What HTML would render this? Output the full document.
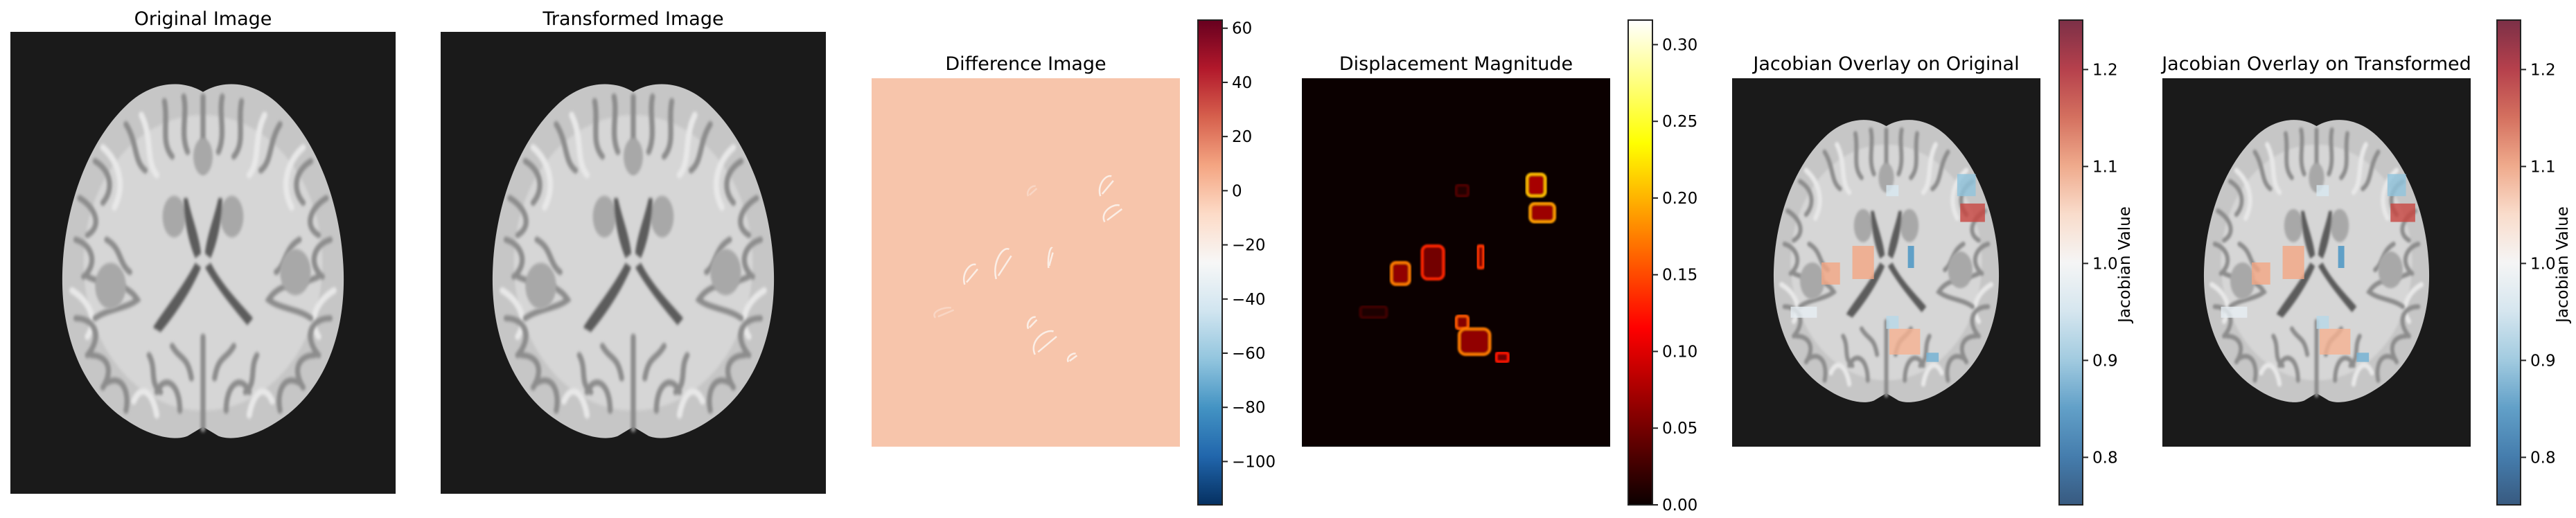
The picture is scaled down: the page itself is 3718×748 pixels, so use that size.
<!DOCTYPE html>
<html><head><meta charset="utf-8">
<style>
html,body{margin:0;padding:0;background:#fff;width:3718px;height:748px;overflow:hidden}
text{font-family:"DejaVu Sans","Liberation Sans",sans-serif;fill:#000}
</style></head>
<body>
<svg id="fig" width="3718" height="748" viewBox="0 0 3718 748" xmlns="http://www.w3.org/2000/svg">
<defs>
<filter id="soft" x="-5%" y="-5%" width="110%" height="110%"><feGaussianBlur stdDeviation="0.35"/></filter>
<filter id="glow"><feGaussianBlur stdDeviation="1.2"/></filter>
<symbol id="brain" viewBox="0 0 100 100" preserveAspectRatio="none">
 <path d="M50,13 C56,10 64,11 70,16 C80,24 86,38 86.5,52 C87,66 81,78 70,84 C63,88 57,88.5 54,87.5 L50,85.5 L46,87.5 C43,88.5 37,88 30,84 C19,78 13,66 13.5,52 C14,38 20,24 30,16 C36,11 44,10 50,13 Z" fill="#c6c6c6"/>
 <ellipse cx="50" cy="50" rx="31" ry="32" fill="#d6d6d6" filter="url(#soft)"/>
 <g fill="none" stroke="#e8e8e8" stroke-width="1.4" stroke-linecap="round" filter="url(#soft)">
  <path d="M24,25 C28,28 30,33 27,38"/><path d="M34,18 C37,23 35,28 38,31"/><path d="M66,18 C63,23 65,28 62,31"/><path d="M76,25 C72,28 70,33 73,38"/>
  <path d="M16,56 C20,58 23,62 20,66"/><path d="M84,56 C80,58 77,62 80,66"/><path d="M32,80 C34,76 37,78 38,83"/><path d="M68,80 C66,76 63,78 62,83"/>
 </g>
 <g fill="none" stroke="#8c8c8c" stroke-width="1.3" stroke-linecap="round" filter="url(#soft)">
  <path d="M22,28 C26,30 27,34 24,37"/><path d="M30,20 C33,24 32,28 35,30"/><path d="M40,15 C41,20 39,24 42,27"/><path d="M45,14 C46,18 44,22 46,26"/>
  <path d="M60,15 C59,20 61,24 58,27"/><path d="M55,14 C54,18 56,22 54,26"/><path d="M70,20 C67,24 68,28 65,30"/><path d="M78,28 C74,30 73,34 76,37"/>
  <path d="M18,36 C22,38 24,42 20,44"/><path d="M82,36 C78,38 76,42 80,44"/>
  <path d="M17,45 C21,46 23,50 19,53"/><path d="M83,45 C79,46 77,50 81,53"/><path d="M17,62 C22,62 24,66 20,70"/>
  <path d="M83,62 C78,62 76,66 80,70"/><path d="M25,76 C29,74 31,78 30,82"/><path d="M75,76 C71,74 69,78 70,82"/>
  <path d="M21,70 C25,70 27,73 24,77"/><path d="M79,70 C75,70 73,73 76,77"/>
  <path d="M38,78 C40,74 44,76 44,82"/><path d="M62,78 C60,74 56,76 56,82"/><path d="M50,14 L50,30"/><path d="M50,66 L50,86"/>
  <path d="M20,53 C25,55 30,54 33,58 C30,60 25,60 22,62"/><path d="M80,53 C75,55 70,54 67,58 C70,60 75,60 78,62"/>
  <path d="M42,68 C44,71 46,70 47,75"/><path d="M58,68 C56,71 54,70 53,75"/><path d="M36,70 C38,73 36,76 39,78"/><path d="M64,70 C62,73 64,76 61,78"/>
  <path d="M25,45 C29,47 28,50 31,52"/><path d="M75,45 C71,47 72,50 69,52"/>
 </g>
 <g fill="#a8a8a8" filter="url(#soft)">
  <ellipse cx="42.5" cy="40" rx="3" ry="4.5"/><ellipse cx="57.5" cy="40" rx="3" ry="4.5"/>
  <ellipse cx="50" cy="27" rx="2.5" ry="4"/><ellipse cx="74" cy="52" rx="4" ry="5"/><ellipse cx="26" cy="55" rx="4" ry="5"/>
 </g>
 <g fill="#5c5c5c" filter="url(#soft)">
  <path d="M46,36 C47,40 49,44 49.5,48 L48,49 C46,45 45,40 45,36 Z"/>
  <path d="M54,36 C53,40 51,44 50.5,48 L52,49 C54,45 55,40 55,36 Z"/>
  <path d="M48,50 C45,55 40,60 37,64 L39,65 C43,61 47,56 49.5,51 Z"/>
  <path d="M52,50 C55,55 60,59 63,62 L61.5,63.5 C58,60 54,56 50.5,51 Z"/>
 </g>
</symbol>
<linearGradient id="gRdBu" x1="0" y1="1" x2="0" y2="0">
 <stop offset="0" stop-color="#053061"/><stop offset="0.1" stop-color="#2166ac"/><stop offset="0.2" stop-color="#4393c3"/>
 <stop offset="0.3" stop-color="#92c5de"/><stop offset="0.4" stop-color="#d1e5f0"/><stop offset="0.5" stop-color="#f7f7f7"/>
 <stop offset="0.6" stop-color="#fddbc7"/><stop offset="0.7" stop-color="#f4a582"/><stop offset="0.8" stop-color="#d6604d"/>
 <stop offset="0.9" stop-color="#b2182b"/><stop offset="1" stop-color="#67001f"/>
</linearGradient>
<linearGradient id="gRdBuA" x1="0" y1="1" x2="0" y2="0">
 <stop offset="0" stop-color="#385a80"/><stop offset="0.1" stop-color="#457dad"/><stop offset="0.2" stop-color="#62a0c8"/>
 <stop offset="0.3" stop-color="#a2cbe0"/><stop offset="0.4" stop-color="#d6e6ef"/><stop offset="0.5" stop-color="#f5f5f5"/>
 <stop offset="0.6" stop-color="#f9dccb"/><stop offset="0.7" stop-color="#efaa8c"/><stop offset="0.8" stop-color="#d4705f"/>
 <stop offset="0.9" stop-color="#b5404c"/><stop offset="1" stop-color="#7c3047"/>
</linearGradient>
<linearGradient id="gHot" x1="0" y1="1" x2="0" y2="0">
 <stop offset="0" stop-color="#0b0000"/><stop offset="0.365" stop-color="#ff0000"/><stop offset="0.746" stop-color="#ffff00"/><stop offset="1" stop-color="#ffffff"/>
</linearGradient>
</defs>
<g id="root"></g>
</svg>
<script>
// colorbar data
const diffTicks = [60, 40, 20, 0, -20, -40, -60, -80, -100];
const diffRange = [-116, 63];
const dispTicks = [0.00, 0.05, 0.10, 0.15, 0.20, 0.25, 0.30];
const dispRange = [0, 0.316];
const jacTicks = [0.8, 0.9, 1.0, 1.1, 1.2];
const jacRange = [0.751, 1.251];
// deformation regions (relative x0,y0,x1,y1 in image), jacobian value, displacement magnitude
const regionBoxes = [[0.73,0.26,0.79,0.32],[0.74,0.34,0.82,0.39],[0.50,0.29,0.54,0.32],[0.57,0.455,0.59,0.515],[0.29,0.50,0.35,0.56],[0.39,0.455,0.46,0.545],[0.19,0.62,0.275,0.65],[0.50,0.645,0.54,0.68],[0.51,0.68,0.61,0.75],[0.63,0.745,0.67,0.77]];
const regionJac = [0.90, 1.17, 0.96, 0.85, 1.10, 1.10, 0.98, 0.93, 1.09, 0.88];
const regionDisp = [0.26, 0.24, 0.04, 0.18, 0.22, 0.17, 0.03, 0.20, 0.22, 0.16];

const NS='http://www.w3.org/2000/svg';
const root=document.getElementById('root');
function el(tag,attrs,parent){const e=document.createElementNS(NS,tag);for(const k in attrs)e.setAttribute(k,attrs[k]);(parent||root).appendChild(e);return e;}
function title(x,y,t){const e=el('text',{x:x,y:y,'text-anchor':'middle','font-size':27});e.textContent=t;

}
function colorbar(x,top,bot,w,grad,range,ticks,fmt,name){
 const g=el('g',{});
 
 
 el('rect',{x:x,y:top,width:w,height:bot-top,fill:'url(#'+grad+')',stroke:'#222','stroke-width':2},g);
 const sy=v=>bot-(v-range[0])/(range[1]-range[0])*(bot-top);
 ticks.forEach(v=>{const y=sy(v);
  el('line',{x1:x+w,x2:x+w+8,y1:y,y2:y,stroke:'#222','stroke-width':2},g);
  const t=el('text',{x:x+w+14,y:y+8,'font-size':23},g);t.textContent=fmt(v);
  
  });
 return g;}
function brain(x,y,w,h,name){const u=el('use',{href:'#brain',x:x,y:y,width:w,height:h});
 
 }
function lerpHex(stops,t){t=Math.max(0,Math.min(1,t));const n=stops.length-1;const i=Math.min(n-1,Math.floor(t*n));const f=t*n-i;
 const a=stops[i],b=stops[i+1];const c=[0,1,2].map(k=>Math.round(a[k]+(b[k]-a[k])*f));return 'rgb('+c.join(',')+')';}
const rdbu=[[5,48,97],[33,102,172],[67,147,195],[146,197,222],[209,229,240],[247,247,247],[253,219,199],[244,165,130],[214,96,77],[178,24,43],[103,0,31]];
const hot=[[11,0,0],[140,0,0],[255,0,0],[255,128,0],[255,255,0],[255,255,255]];
const minus=v=>(v<0?'\u2212'+Math.abs(v):''+v);

// Panel 1 & 2
[[15,'Original Image','original-image'],[636,'Transformed Image','transformed-image']].forEach(([x,t,n])=>{
 const r=el('rect',{x:x,y:46,width:556,height:667,fill:'#1a1a1a'});
 
 
 brain(x,46,556,667,n+'-brain');
 title(x+278,36,t);
});

// Difference image
const dX=1258,dY=113,dW=445,dH=532;
const dr=el('rect',{x:dX,y:dY,width:dW,height:dH,fill:'#f7c5ab'});


regionBoxes.forEach((b,i)=>{const x0=dX+b[0]*dW,y0=dY+b[1]*dH,w=(b[2]-b[0])*dW,h=(b[3]-b[1])*dH;
 const e=el('path',{d:'M'+(x0+w*0.2)+','+(y0+h)+' C'+(x0)+','+(y0+h*0.5)+' '+(x0+w*0.5)+','+y0+' '+(x0+w*0.8)+','+(y0+h*0.1)+' M'+(x0+w*0.3)+','+(y0+h*0.9)+' L'+(x0+w*0.9)+','+(y0+h*0.3),fill:'none',stroke:regionDisp[i]>0.1?'#fbeee6':'#f9d6c4','stroke-width':2.5});
 
 });
title(dX+dW/2,101,'Difference Image');
colorbar(1729,29,729,35,'gRdBu',diffRange,diffTicks,minus,'difference-colorbar');

// Displacement magnitude
const pX=1879,pW=445;
const pr=el('rect',{x:pX,y:dY,width:pW,height:dH,fill:'#0b0000'});


regionBoxes.forEach((b,i)=>{const x0=pX+b[0]*pW,y0=dY+b[1]*dH,w=(b[2]-b[0])*pW,h=(b[3]-b[1])*dH;
 const col=lerpHex(hot,regionDisp[i]/dispRange[1]*0.85);
 const e=el('rect',{x:x0,y:y0,width:w,height:h,rx:Math.min(w,h)/4,fill:lerpHex(hot,regionDisp[i]/dispRange[1]*0.3),stroke:col,'stroke-width':4,filter:'url(#glow)'});
 
 });
title(pX+pW/2,101,'Displacement Magnitude');
colorbar(2350,29,729,35,'gHot',dispRange,dispTicks,v=>v.toFixed(2),'displacement-colorbar');

// Jacobian overlays
[[2500,2972,'Jacobian Overlay on Original','jacobian-original'],[3121,3604,'Jacobian Overlay on Transformed','jacobian-transformed']].forEach(([x,cbx,t,n])=>{
 const w=445;
 const r=el('rect',{x:x,y:dY,width:w,height:dH,fill:'#1a1a1a'});
 
 
 brain(x,dY,w,dH,n+'-brain');
 regionBoxes.forEach((b,i)=>{
  const e=el('rect',{x:x+b[0]*w,y:dY+b[1]*dH,width:(b[2]-b[0])*w,height:(b[3]-b[1])*dH,fill:lerpHex(rdbu,(regionJac[i]-jacRange[0])/(jacRange[1]-jacRange[0])),opacity:0.8});
  
  });
 title(x+w/2,101,t);
 colorbar(cbx,29,729,34,'gRdBuA',jacRange,jacTicks,v=>v.toFixed(1),n+'-colorbar');
 const lab=el('text',{x:0,y:0,'font-size':23,'text-anchor':'middle',transform:'translate('+(cbx+102)+',382) rotate(-90)'});
 lab.textContent='Jacobian Value';
 
 
});
</script>
</body></html>
